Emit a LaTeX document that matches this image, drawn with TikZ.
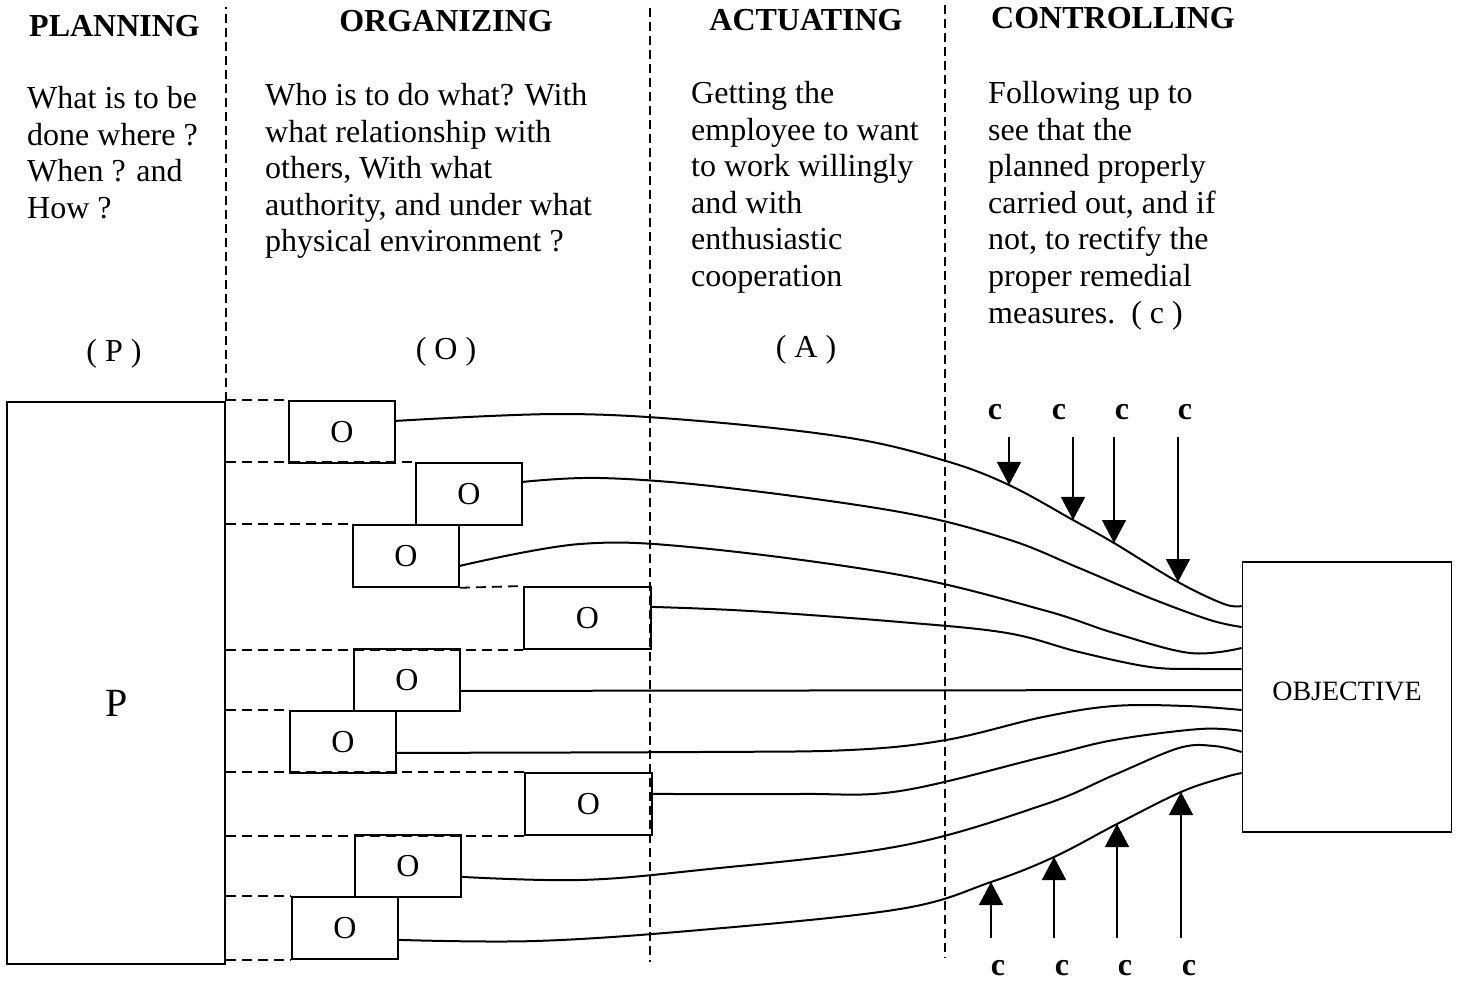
\documentclass[tikz,border=0pt]{standalone}
\usepackage{fontspec}
\setmainfont{Liberation Serif}
\usetikzlibrary{arrows.meta}

\begin{document}
\begin{tikzpicture}[x=1pt,y=-1pt,
        txt/.style={font=\fontsize{32}{36.6}\selectfont,inner sep=0pt},
        head/.style={txt,font=\fontsize{32}{36.6}\selectfont\bfseries},
        desc/.style={txt,align=left,anchor=north west},
        obox/.style={txt,draw,line width=1.8pt,minimum width=106pt,minimum height=62pt,anchor=north west},
        bigbox/.style={txt,draw,line width=1.8pt},
        divider/.style={line width=1.6pt,dash pattern=on 9pt off 5pt},
        hdash/.style={line width=1.8pt,dash pattern=on 10pt off 6pt},
        flow/.style={line width=2pt,line join=round},
        carrow/.style={line width=1.6pt,-{Triangle[length=23pt,width=24pt]}}]
    \useasboundingbox (0,0) rectangle (1460,981);

    \node[head,anchor=base west] (hplan) at (29,37) {PLANNING};
    \node[head,anchor=base] (horg) at (446,32) {ORGANIZING};
    \node[head,anchor=base] (hact) at (806,31) {ACTUATING};
    \node[head,anchor=base] (hcon) at (1113,29) {CONTROLLING};

    \node[desc] (dplan) at (27,86) {What is to be\\done where ?\\When ? and\\How ?};
    \node[desc] (dorg) at (265,83) {Who is to do what? With\\what relationship with\\others, With what\\authority, and under what\\physical environment ?};
    \node[desc] (dact) at (691,81) {Getting the\\employee to want\\to work willingly\\and with\\enthusiastic\\cooperation};
    \node[desc] (dcon) at (988,81) {Following up to\\see that the\\planned properly\\carried out, and if\\not, to rectify the\\proper remedial\\measures.\ \ ( c )};

    \node[txt,anchor=base] (lplan) at (114,362) {( P )};
    \node[txt,anchor=base] (lorg) at (446,360) {( O )};
    \node[txt,anchor=base] (lact) at (806,358) {( A )};

    \node[bigbox,minimum width=218pt,minimum height=562pt] (pbox) at (116,683) {};
    \node[txt,font=\fontsize{40}{40}\selectfont] (pname) at (117,703) {P};
    \node[bigbox,font=\fontsize{28}{28}\selectfont,minimum width=209pt,minimum height=270pt,text depth=12pt] (obj) at (1347,697) {OBJECTIVE};

    \foreach \x/\w [count=\i] in {288/106,415/106,352/106,523/127,353/106,289/106,524/127,354/106,291/106}
        \node[obox,minimum width=\w pt] (o\i) at (\x,{400+62*(\i-1)}) {O};

    \draw[divider] (pbox.north east) -- ++(0,-394);
    \draw[divider] (650,8) -- (650,962);
    \draw[divider] (945,5) -- (945,958);

    \foreach \b in {o1.north west,o2.north west,o3.north west,o4.south west,o6.north west,o7.north west,o7.south west,o9.north west,o9.south west}
        \draw[hdash] (pbox.east |- \b) -- (\b);
    \draw[hdash] (o3.south east) -- (o4.north west);

    \foreach \x/\y [count=\i] in {1009/485,1073/520,1114/543,1178/582}
        \coordinate (ta\i) at (\x,\y);
    \foreach \x/\y [count=\i] in {991/882,1054/857,1117/824,1181/792}
        \coordinate (tb\i) at (\x,\y);
    \coordinate (atop) at (0,437);
    \coordinate (abot) at (0,938);

    \draw[flow] plot[smooth,tension=0.6] coordinates {([yshift=11pt]o1.east) (560,414) (700,421) (850,438) (946,461) (ta1) (ta2) (ta3) (ta4) (1224,604) ([yshift=91pt]obj.west)};
    \draw[flow] plot[smooth,tension=0.6] coordinates {([yshift=12pt]o2.east) (600,478) (720,487) (900,512) (1007,539) (1079,568) (1150,598) (1210,620) ([yshift=70pt]obj.west)};
    \draw[flow] plot[smooth,tension=0.6] coordinates {([yshift=-10pt]o3.east) (580,544) (700,548) (900,575) (1043,610) (1114,633) (1190,653) ([yshift=49pt]obj.west)};
    \draw[flow] plot[smooth,tension=0.6] coordinates {([yshift=11pt]o4.east) (750,611) (900,622) (1007,633) (1079,652) (1150,667) (1200,669) ([yshift=28pt]obj.west)};
    \draw[flow] ([yshift=-11pt]o5.east) -- ([yshift=7pt]obj.west);
    \draw[flow] plot[smooth,tension=0.6] coordinates {([yshift=-11pt]o6.east) (700,752) (850,750) (946,740) (1043,717) (1114,706) (1186,706) ([yshift=-13pt]obj.west)};
    \draw[flow] plot[smooth,tension=0.6] coordinates {([yshift=10pt]o7.east) (800,794) (900,791) (1043,757) (1114,740) (1200,729) ([yshift=-34pt]obj.west)};
    \draw[flow] plot[smooth,tension=0.6] coordinates {([yshift=-11pt]o8.east) (580,880) (700,870) (900,846) (1043,805) (1114,775) (1179,748) (1214,746) ([yshift=-55pt]obj.west)};
    \draw[flow] plot[smooth,tension=0.6] coordinates {([yshift=-12pt]o9.east) (536,941) (700,930) (900,909) (tb1) (tb2) (tb3) (tb4) (1222,778) ([yshift=-76pt]obj.west)};

    \foreach \i in {1,...,4}{
        \draw[carrow] (ta\i |- atop) -- (ta\i);
        \draw[carrow] (tb\i |- abot) -- (tb\i);
    }
    \foreach \x [count=\i] in {995,1059,1122,1185}
        \node[head] (ca\i) at (\x,412) {c};
    \foreach \x [count=\i] in {998,1062,1125,1189}
        \node[head] (cb\i) at (\x,968) {c};
\end{tikzpicture}
\end{document}
